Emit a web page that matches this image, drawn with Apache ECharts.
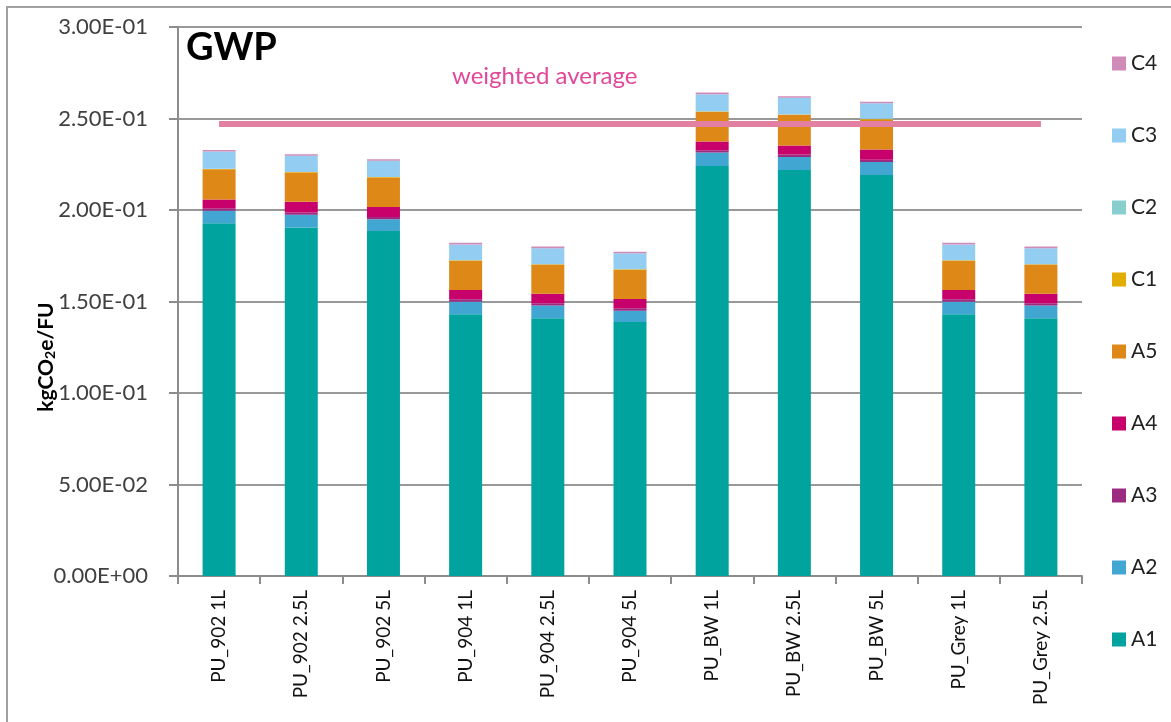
<!DOCTYPE html>
<html>
<head>
<meta charset="utf-8">
<script src="https://cdn.jsdelivr.net/npm/echarts@6/dist/echarts.min.js"></script>
<style>
  html, body { margin: 0; padding: 0; background: #fff; }
  #chart { width: 1171px; height: 722px; }
</style>
</head>
<body>
<div id="chart"></div>
<script>
// 类别和各阶段数据
var categories = ['PU_902 1L', 'PU_902 2.5L', 'PU_902 5L', 'PU_904 1L', 'PU_904 2.5L', 'PU_904 5L',
                  'PU_BW 1L', 'PU_BW 2.5L', 'PU_BW 5L', 'PU_Grey 1L', 'PU_Grey 2.5L'];
var A1 = [0.1927, 0.1905, 0.1885, 0.1430, 0.1409, 0.1388, 0.2241, 0.2219, 0.2191, 0.1430, 0.1409];
var A2 = [0.0069, 0.0069, 0.0064, 0.0069, 0.0069, 0.0062, 0.0073, 0.0071, 0.0071, 0.0069, 0.0069];
var A3 = [0.0013, 0.0013, 0.0013, 0.0013, 0.0013, 0.0013, 0.0013, 0.0013, 0.0013, 0.0013, 0.0013];
var A4 = [0.0049, 0.0058, 0.0054, 0.0051, 0.0051, 0.0051, 0.0047, 0.0049, 0.0056, 0.0051, 0.0051];
var A5 = [0.0164, 0.0160, 0.0162, 0.0160, 0.0160, 0.0160, 0.0162, 0.0168, 0.0164, 0.0160, 0.0160];
var C1 = [0.0002, 0.0002, 0.0002, 0.0002, 0.0002, 0.0002, 0.0002, 0.0002, 0.0002, 0.0002, 0.0002];
var C2 = [0.0001, 0.0001, 0.0001, 0.0001, 0.0001, 0.0001, 0.0001, 0.0001, 0.0001, 0.0001, 0.0001];
var C3 = [0.0094, 0.0088, 0.0088, 0.0086, 0.0086, 0.0086, 0.0094, 0.0090, 0.0086, 0.0086, 0.0086];
var C4 = [0.0009, 0.0008, 0.0008, 0.0009, 0.0009, 0.0009, 0.0009, 0.0008, 0.0008, 0.0009, 0.0009];
var weightedAvg = [0.247, 0.247, 0.247, 0.247, 0.247, 0.247, 0.247, 0.247, 0.247, 0.247, 0.247];
var yTickLabels = ['0.00E+00', '5.00E-02', '1.00E-01', '1.50E-01', '2.00E-01', '2.50E-01', '3.00E-01'];

var stageNames = ['A1', 'A2', 'A3', 'A4', 'A5', 'C1', 'C2', 'C3', 'C4'];
var stageData = [A1, A2, A3, A4, A5, C1, C2, C3, C4];
var stageColors = ['#00a39e', '#42a6d2', '#9c2a80', '#c7006b', '#dd8817', '#e2ad00', '#88cece', '#93cdf1', '#d08bb8'];

var myChart = echarts.init(document.getElementById('chart'));

var series = stageNames.map(function (name, i) {
    return {
        name: name,
        type: 'bar',
        stack: 'total',
        barWidth: 33,
        data: stageData[i],
        itemStyle: { color: stageColors[i] }
    };
});
series.push({
    name: 'weighted average',
    type: 'line',
    data: weightedAvg,
    symbol: 'none',
    z: 5,
    lineStyle: { color: '#e37fa0', width: 6 }
});

var option = {
    animation: false,
    textStyle: { fontFamily: 'Lato, "Open Sans", sans-serif' },
    title: {
        text: 'GWP',
        left: 181,
        top: 24,
        textStyle: { fontSize: 38, fontWeight: 'bold', color: '#000' }
    },
    legend: {
        data: ['C4', 'C3', 'C2', 'C1', 'A5', 'A4', 'A3', 'A2', 'A1'],
        orient: 'vertical',
        left: 1107,
        top: 48,
        itemWidth: 14,
        itemHeight: 14,
        itemGap: 51,
        icon: 'rect',
        textStyle: { fontSize: 21, color: '#222' }
    },
    grid: {
        left: 178,
        right: 89,
        top: 27,
        bottom: 146
    },
    xAxis: {
        type: 'category',
        data: categories,
        axisLine: { lineStyle: { color: '#8c8c8c', width: 2 } },
        axisTick: { show: true, length: 8, lineStyle: { color: '#8c8c8c', width: 2 } },
        axisLabel: {
            rotate: 90,
            fontSize: 19,
            color: '#111',
            margin: 14
        }
    },
    yAxis: {
        type: 'value',
        min: 0,
        max: 0.3,
        interval: 0.05,
        axisLine: { show: true, lineStyle: { color: '#8c8c8c', width: 2 } },
        axisTick: { show: true, length: 9, lineStyle: { color: '#8c8c8c', width: 2 } },
        axisLabel: {
            fontSize: 22,
            color: '#404040',
            margin: 30,
            formatter: function (v) {
                return yTickLabels[Math.round(v / 0.05)];
            }
        },
        splitLine: { lineStyle: { color: '#999', width: 2 } }
    },
    graphic: [
        {
            type: 'rect',
            shape: { x: 7, y: 7, width: 1200, height: 760 },
            style: { fill: 'none', stroke: '#a0a0a0', lineWidth: 2 },
            silent: true
        },
        {
            type: 'text',
            left: 452,
            top: 64,
            style: { text: 'weighted average', fontSize: 24, fill: '#e3479a', fontFamily: 'Lato, sans-serif' }
        },
        {
            // y轴标题
            type: 'text',
            x: 46,
            y: 357,
            rotation: Math.PI / 2,
            style: {
                text: '{a|kgCO}{b|2}{a|e/FU}',
                align: 'center',
                verticalAlign: 'middle',
                rich: {
                    a: { fontSize: 21, fontWeight: 'bold', fill: '#000', fontFamily: 'Lato, sans-serif' },
                    b: { fontSize: 14, fontWeight: 'bold', fill: '#000', fontFamily: 'Lato, sans-serif', padding: [9, 0, 0, 0] }
                }
            }
        }
    ],
    series: series
};

myChart.setOption(option);
window.addEventListener('resize', function () {
    myChart.resize();
});
</script>
</body>
</html>
